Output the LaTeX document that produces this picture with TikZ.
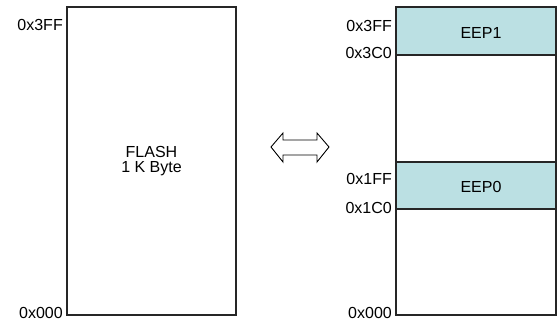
\documentclass[tikz,border=0pt]{standalone}
\usepackage{fontspec}
\setmainfont{Liberation Sans}
\begin{document}
\begin{tikzpicture}[x=1pt,y=1pt,
  every node/.style={font=\fontsize{16}{15.5}\selectfont, inner sep=0pt},
  membox/.style={draw=black!85, line width=1.3pt, rectangle},
  eepbox/.style={membox, fill=eepfill},
  addr/.style={anchor=east}]
\definecolor{eepfill}{RGB}{187,224,227}
\useasboundingbox (0,0) rectangle (557,321);

% flash memory block
\node[membox, minimum width=169pt, minimum height=308pt, align=center]
  (flash) at (151.5,160) {FLASH\\1 K Byte};
\node[addr] (f3ff) at (63,296) {0x3FF};
\node[addr] (f000) at (63,8.5) {0x000};

% two-way arrow
\draw[line width=0.9pt, fill=white] (271,174) -- (283,188) -- (283,181) -- (317,181)
  -- (317,188) -- (329,174) -- (317,159) -- (317,166) -- (283,166) -- (283,159) -- cycle;

% eeprom mapped view
\node[membox, minimum width=160pt, minimum height=308pt] (eemem) at (476,160) {};
\node[eepbox, minimum width=160pt, minimum height=48pt] (eep1) at (476,290) {};
\node[eepbox, minimum width=160pt, minimum height=47pt] (eep0) at (476,135.5) {};
\node (eep1txt) at (481,288) {EEP1};
\node (eep0txt) at (481,134) {EEP0};
\node[addr] (r3ff) at (392,295) {0x3FF};
\node[addr] (r3c0) at (392,268.5) {0x3C0};
\node[addr] (r1ff) at (392,142) {0x1FF};
\node[addr] (r1c0) at (392,113) {0x1C0};
\node[addr] (r000) at (392,8.5) {0x000};
\end{tikzpicture}
\end{document}
